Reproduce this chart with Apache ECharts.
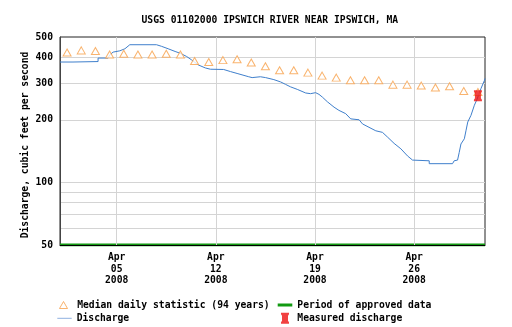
<!DOCTYPE html>
<html><head><meta charset="utf-8">
<script src="https://cdn.jsdelivr.net/npm/echarts@6/dist/echarts.min.js"></script>
<style>html,body{margin:0;padding:0;background:#fff}#c{width:512px;height:327px}</style>
</head><body><div id="c"></div>
<script>
const chartTitle = 'USGS 01102000 IPSWICH RIVER NEAR IPSWICH, MA';
const yAxisTitle = 'Discharge, cubic feet per second';
const year = 2008;
const yTickLabels = [50, 100, 200, 300, 400, 500];
const yGridValues = [60, 70, 80, 90, 100, 200, 300, 400];
const xTickDates = ['04-05', '04-12', '04-19', '04-26'];
const xRange = ['04-01 00:00', '05-01 00:00'];

const medianName = 'Median daily statistic (94 years)';
const medianDates = ['04-01','04-02','04-03','04-04','04-05','04-06','04-07','04-08','04-09','04-10',
  '04-11','04-12','04-13','04-14','04-15','04-16','04-17','04-18','04-19','04-20',
  '04-21','04-22','04-23','04-24','04-25','04-26','04-27','04-28','04-29','04-30'];
const medianValues = [421,431,428,412,415,412,412,415,412,383,379,387,391,377,362,346,346,337,326,319,310,310,310,295,295,292,286,290,275,272];

const dischargeName = 'Discharge';
const dischargeTimes = ['04-01 00:00','04-01 22:00','04-01 22:00','04-03 16:30','04-03 16:30','04-04 09:30','04-04 12:30','04-04 18:00',
  '04-05 05:15','04-05 14:00','04-05 22:15','04-07 19:30','04-08 04:00','04-08 15:15','04-09 03:00','04-09 11:15','04-09 22:30',
  '04-10 07:00','04-10 18:15','04-11 06:15','04-11 14:45','04-12 13:15','04-13 00:45','04-13 12:00','04-14 07:45','04-14 13:30',
  '04-15 03:30','04-15 12:15','04-16 02:15','04-16 13:45','04-16 22:00','04-17 06:30','04-17 18:00','04-18 08:15','04-18 16:30',
  '04-19 01:00','04-19 06:45','04-19 12:30','04-19 21:00','04-20 08:15','04-20 16:30','04-21 04:00','04-21 12:30','04-22 02:45',
  '04-22 08:30','04-22 19:30','04-23 07:00','04-23 18:15','04-24 03:00','04-24 14:00','04-25 01:30','04-25 12:45','04-25 21:15',
  '04-26 00:00','04-27 01:30','04-27 01:30','04-28 17:00','04-28 19:45','04-29 01:30','04-29 04:15','04-29 07:15','04-29 13:00',
  '04-29 15:45','04-29 18:45','04-30 00:15','04-30 06:00','04-30 10:30','04-30 17:15','04-30 23:15','05-01 00:00'];
const dischargeValues = [379,379,381,381,396,396,411,423,
  429,439,459,459,451,439,426,418,403,
  388,367,355,350,349,341,334,322,319,
  322,319,312,304,296,288,280,269,267,
  270,265,257,244,230,222,214,202,200,
  191,184,177,174,165,154,145,134,128,
  127,127,123,123,127,128,139,153,162,
  177,195,210,235,251,283,310,316];

const approvedName = 'Period of approved data';
const approvedTimes = ['04-01 00:00', '05-01 00:00'];
const approvedValues = [50, 50];

const measuredName = 'Measured discharge';
const measuredTimes = ['04-30 12:00'];
const measuredValues = [261];

const monthNames = ['Jan','Feb','Mar','Apr','May','Jun','Jul','Aug','Sep','Oct','Nov','Dec'];
function t(s) {
  const parts = s.split(' ');
  const md = parts[0].split('-').map(Number);
  const hm = (parts[1] || '00:00').split(':').map(Number);
  return Date.UTC(year, md[0] - 1, md[1], hm[0], hm[1]);
}
const pair = (times, vals) => times.map((s, i) => [t(s), vals[i]]);

const FONT = 'DejaVu Sans Mono';
const FS = 9.7;
const FW = 'bold';
const ORANGE = '#f7a04a', BLUE = '#3f7fcc', GREEN = '#129a12', RED = '#ee1111';
const markerPath = 'path://M0,0 L8,0 L8,1.5 L7,3 L7,8 L8,9.5 L8,11 L0,11 L0,9.5 L1,8 L1,3 L0,1.5 Z';
const legendText = {fontFamily: FONT, fontSize: FS, fontWeight: FW, color: '#000', lineHeight: 11};
function leg(name, left, top, w, h, icon, itemStyle, padLeft) {
  return {
    show: true, orient: 'horizontal', left: left, top: top, padding: 0,
    itemWidth: w, itemHeight: h, icon: icon, itemStyle: itemStyle,
    textStyle: Object.assign({}, legendText, {padding: [0, 0, 0, padLeft || 0]}),
    selectedMode: false, data: [name]
  };
}

const chart = echarts.init(document.getElementById('c'), null, {renderer: 'canvas'});
chart.setOption({
  animation: false,
  backgroundColor: '#fff',
  title: {
    text: chartTitle, left: 141.5, top: 15.5, padding: 0,
    textStyle: {fontFamily: FONT, fontSize: FS, fontWeight: FW, color: '#000'}
  },
  graphic: [{
    type: 'text', x: 25, y: 145, rotation: Math.PI / 2,
    style: {text: yAxisTitle, font: FW + ' ' + FS + 'px "' + FONT + '"', fill: '#000', align: 'center', verticalAlign: 'middle'}
  }],
  grid: {left: 60, right: 27, top: 37, bottom: 82, show: true, borderColor: '#222', borderWidth: 1, containLabel: false},
  legend: [
    leg(medianName, 59, 299.5, 8, 7, 'triangle', {color: '#fff', borderColor: ORANGE, borderWidth: 1}, 4.7),
    leg(dischargeName, 57.3, 312.8, 14.4, 1, 'rect', {color: '#8fb0e0', borderWidth: 0}),
    leg(approvedName, 277.7, 299.5, 14.6, 3, 'rect', {color: GREEN, borderWidth: 0}),
    leg(measuredName, 281, 312.8, 8, 11, markerPath, {color: RED, borderWidth: 0}, 3.3)
  ],
  xAxis: {
    type: 'value', min: t(xRange[0]), max: t(xRange[1]),
    axisLine: {lineStyle: {color: '#000'}}, z: 3,
    axisTick: {show: false, customValues: xTickDates.map(d => t(d))},
    splitLine: {show: true, lineStyle: {color: '#d4d4d4', width: 1}},
    axisLabel: {
      customValues: xTickDates.map(d => t(d)), margin: 7,
      fontFamily: FONT, fontSize: FS, fontWeight: FW, color: '#000', lineHeight: 11.5,
      formatter: v => { const d = new Date(v); return monthNames[d.getUTCMonth()] + '\n' + String(d.getUTCDate()).padStart(2, '0') + '\n' + d.getUTCFullYear(); }
    }
  },
  yAxis: {
    type: 'log', logBase: 10, min: 50, max: 500,
    axisLine: {show: true, lineStyle: {color: '#444'}},
    axisTick: {show: false, customValues: yGridValues},
    splitLine: {show: true, lineStyle: {color: '#d4d4d4', width: 1}},
    axisLabel: {customValues: yTickLabels, margin: 7, fontFamily: FONT, fontSize: FS, fontWeight: FW, color: '#000', formatter: v => String(Math.round(v))}
  },
  series: [{
    name: approvedName, type: 'line', data: pair(approvedTimes, approvedValues),
    symbol: 'none', lineStyle: {color: GREEN, width: 3}, itemStyle: {color: GREEN}, z: 2
  }, {
    name: dischargeName, type: 'line', data: pair(dischargeTimes, dischargeValues),
    symbol: 'none', lineStyle: {color: BLUE, width: 1}, itemStyle: {color: '#8fb0e0'}, z: 3
  }, {
    name: medianName, type: 'scatter', data: pair(medianDates.map(d => d + ' 12:00'), medianValues),
    symbol: 'triangle', symbolSize: [8, 7],
    itemStyle: {color: '#fff', borderColor: ORANGE, borderWidth: 1}, z: 4
  }, {
    name: measuredName, type: 'scatter', data: pair(measuredTimes, measuredValues),
    symbol: markerPath, symbolSize: [8, 11], itemStyle: {color: RED}, z: 5
  }]
});
</script></body></html>
